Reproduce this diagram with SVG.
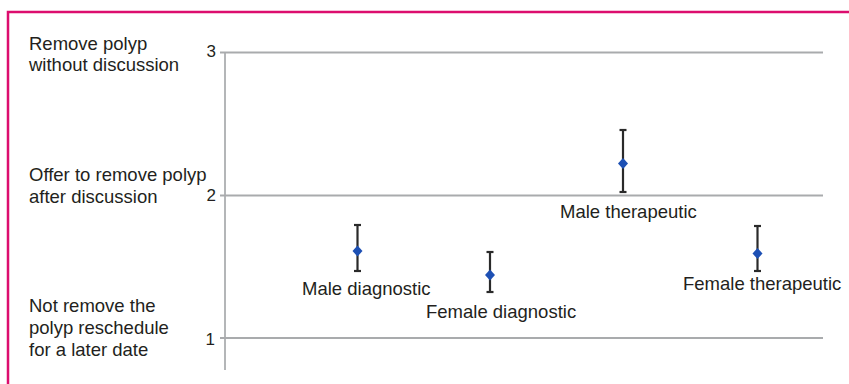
<svg xmlns="http://www.w3.org/2000/svg" width="849" height="384" viewBox="0 0 849 384">
<style>
.t{font-family:"Liberation Sans",Arial,sans-serif;font-size:18.5px;fill:#231f20}
.n{font-family:"Liberation Sans",Arial,sans-serif;font-size:17px;fill:#231f20;text-anchor:end}
.grid{stroke:#a9abad;stroke-width:2;fill:none}
.axis{stroke:#b4b6b8;stroke-width:2;fill:none}
.err{stroke:#2a2a2a;stroke-width:2.2;fill:none}
.cap{stroke:#2a2a2a;stroke-width:2.2}
.dot{fill:#1d50b4}
</style>
<rect x="8" y="12" width="900" height="420" fill="#fff" stroke="#dc0d6e" stroke-width="2.5"/>
<g id="axes">
<line class="axis" x1="225" y1="52" x2="225" y2="370"/>
<line class="grid" x1="220" y1="52.5" x2="823" y2="52.5"/>
<line class="grid" x1="220" y1="195.5" x2="823" y2="195.5"/>
<line class="grid" x1="220" y1="338" x2="823" y2="338"/>
<text class="n" x="216" y="57">3</text>
<text class="n" x="216" y="201">2</text>
<text class="n" x="215" y="345">1</text>
</g>
<g id="ylabels">
<text class="t" x="29" y="50">Remove polyp</text>
<text class="t" x="29" y="71">without discussion</text>
<text class="t" x="29" y="181">Offer to remove polyp</text>
<text class="t" x="29" y="203">after discussion</text>
<text class="t" x="29" y="312">Not remove the</text>
<text class="t" x="29" y="334">polyp reschedule</text>
<text class="t" x="29" y="356">for a later date</text>
</g>
<g id="male-diagnostic">
<line class="err" x1="357.5" y1="225" x2="357.5" y2="271"/>
<line class="cap" x1="354" y1="225" x2="361" y2="225"/>
<line class="cap" x1="354" y1="271" x2="361" y2="271"/>
<path class="dot" d="M357.5 245.5 L362.5 251 L357.5 256.5 L352.5 251 Z"/>
<text class="t" x="302" y="295">Male diagnostic</text>
</g>
<g id="female-diagnostic">
<line class="err" x1="490" y1="252" x2="490" y2="292"/>
<line class="cap" x1="486.5" y1="252" x2="493.5" y2="252"/>
<line class="cap" x1="486.5" y1="292" x2="493.5" y2="292"/>
<path class="dot" d="M490 269.5 L495 275 L490 280.5 L485 275 Z"/>
<text class="t" x="426" y="318">Female diagnostic</text>
</g>
<g id="male-therapeutic">
<line class="err" x1="623" y1="130" x2="623" y2="192"/>
<line class="cap" x1="619.5" y1="130" x2="626.5" y2="130"/>
<line class="cap" x1="619.5" y1="192" x2="626.5" y2="192"/>
<path class="dot" d="M623 158 L628 163.5 L623 169 L618 163.5 Z"/>
<text class="t" x="560" y="218">Male therapeutic</text>
</g>
<g id="female-therapeutic">
<line class="err" x1="757.5" y1="226" x2="757.5" y2="271"/>
<line class="cap" x1="754" y1="226" x2="761" y2="226"/>
<line class="cap" x1="754" y1="271" x2="761" y2="271"/>
<path class="dot" d="M757.5 248 L762.5 253.5 L757.5 259 L752.5 253.5 Z"/>
<text class="t" x="683" y="290">Female therapeutic</text>
</g>
<g id="connectors"></g>
</svg>
